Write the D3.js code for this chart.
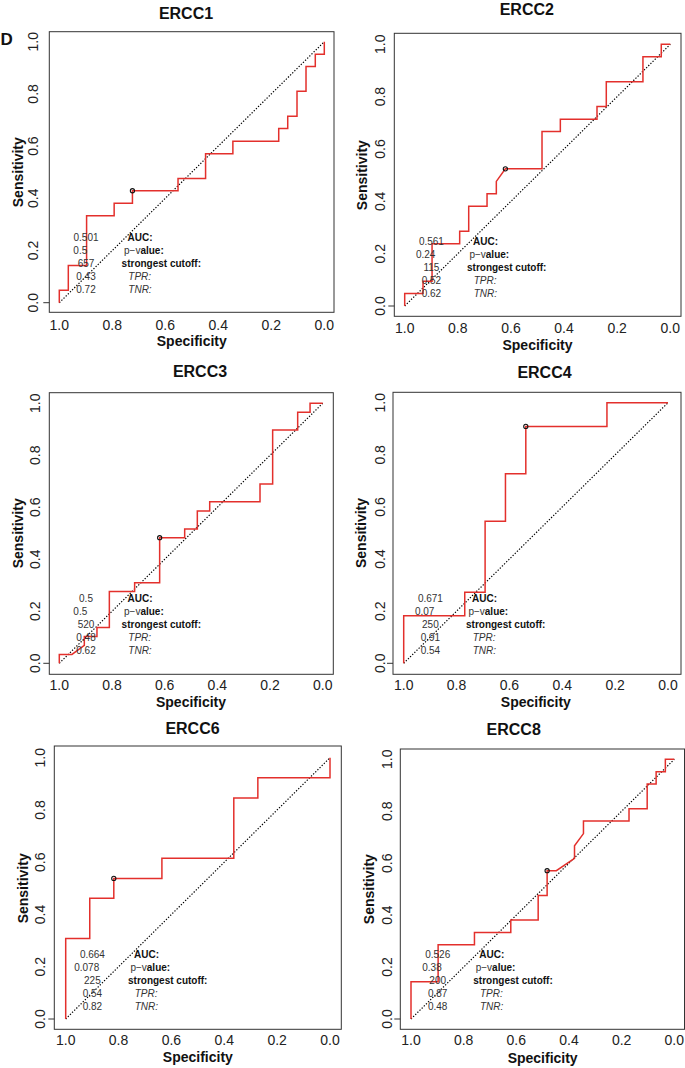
<!DOCTYPE html>
<html><head><meta charset="utf-8">
<script src="https://cdn.jsdelivr.net/npm/d3@7"></script>
<style>
html,body{margin:0;padding:0;background:#fff;}
svg{display:block;font-family:"Liberation Sans",Arial,Helvetica,sans-serif;}
</style></head>
<body>
<svg id="chart" width="685" height="1068"></svg>
<script>
// ---------- data ----------
const geneNames = ["ERCC1","ERCC2","ERCC3","ERCC4","ERCC6","ERCC8"];
const axisTicks = [0, 0.2, 0.4, 0.6, 0.8, 1.0];
const statLabels = ["AUC:", "p\u2212value:", "strongest cutoff:", "TPR:", "TNR:"];

const ercc1Spec = [1,1,0.966,0.966,0.897,0.897,0.793,0.793,0.724,0.724,0.552,0.552,0.448,0.448,0.345,0.345,0.172,0.172,0.138,0.138,0.103,0.103,0.069,0.069,0.034,0.034,0,0];
const ercc1Sens = [0,0.048,0.048,0.143,0.143,0.333,0.333,0.381,0.381,0.429,0.429,0.476,0.476,0.571,0.571,0.619,0.619,0.667,0.667,0.714,0.714,0.810,0.810,0.905,0.905,0.952,0.952,1];
const ercc1Best = [0.724, 0.429];
const ercc1Stats = ["0.501","0.5","657","0.43","0.72"];

const ercc2Spec = [1,1,0.931,0.931,0.897,0.897,0.793,0.793,0.759,0.759,0.690,0.690,0.655,0.655,0.621,0.483,0.483,0.414,0.414,0.276,0.276,0.241,0.241,0.103,0.103,0.034,0.034,0];
const ercc2Sens = [0,0.048,0.048,0.095,0.095,0.238,0.238,0.286,0.286,0.381,0.381,0.429,0.429,0.476,0.524,0.524,0.667,0.667,0.714,0.714,0.762,0.762,0.857,0.857,0.952,0.952,1,1];
const ercc2Best = [0.621, 0.524];
const ercc2Stats = ["0.561","0.24","115","0.52","0.62"];

const ercc3Spec = [1,1,0.952,0.905,0.905,0.857,0.857,0.810,0.810,0.714,0.714,0.619,0.619,0.524,0.524,0.476,0.476,0.429,0.429,0.238,0.238,0.190,0.190,0.095,0.095,0.048,0.048,0];
const ercc3Sens = [0,0.034,0.034,0.069,0.103,0.103,0.138,0.138,0.276,0.276,0.310,0.310,0.483,0.483,0.517,0.517,0.586,0.586,0.621,0.621,0.690,0.690,0.897,0.897,0.966,0.966,1,1];
const ercc3Best = [0.619, 0.483];
const ercc3Stats = ["0.5","0.5","520","0.48","0.62"];

const ercc4Spec = [1,1,0.769,0.769,0.692,0.692,0.615,0.615,0.538,0.538,0.231,0.231,0];
const ercc4Sens = [0,0.182,0.182,0.273,0.273,0.545,0.545,0.727,0.727,0.909,0.909,1,1];
const ercc4Best = [0.538, 0.909];
const ercc4Stats = ["0.671","0.07","250","0.91","0.54"];

const ercc6Spec = [1,1,0.909,0.909,0.818,0.818,0.636,0.636,0.364,0.364,0.273,0.273,0,0];
const ercc6Sens = [0,0.308,0.308,0.462,0.462,0.538,0.538,0.615,0.615,0.846,0.846,0.923,0.923,1];
const ercc6Best = [0.818, 0.538];
const ercc6Stats = ["0.664","0.078","225","0.54","0.82"];

const ercc8Spec = [1,1,0.897,0.897,0.759,0.759,0.621,0.621,0.517,0.517,0.483,0.483,0.448,0.379,0.379,0.345,0.345,0.172,0.172,0.103,0.103,0.069,0.069,0.034,0.034,0];
const ercc8Sens = [0,0.143,0.143,0.286,0.286,0.333,0.333,0.381,0.381,0.476,0.476,0.571,0.571,0.619,0.667,0.714,0.762,0.762,0.810,0.810,0.905,0.905,0.952,0.952,1,1];
const ercc8Best = [0.483, 0.571];
const ercc8Stats = ["0.526","0.38","200","0.87","0.48"];

const specSeries = [ercc1Spec, ercc2Spec, ercc3Spec, ercc4Spec, ercc6Spec, ercc8Spec];
const sensSeries = [ercc1Sens, ercc2Sens, ercc3Sens, ercc4Sens, ercc6Sens, ercc8Sens];
const bestPoints = [ercc1Best, ercc2Best, ercc3Best, ercc4Best, ercc6Best, ercc8Best];
const statValues = [ercc1Stats, ercc2Stats, ercc3Stats, ercc4Stats, ercc6Stats, ercc8Stats];

// ---------- layout (pixels) ----------
const layout = [
  {x1:59.3, x0:324.3, y1:41.7, y0:302.7, bl:49.3, br:334, bt:31.7, bb:312.3, tx:186, ty:19.3, yt:33.3, yl:18.3, xt:325, xl:340.5},
  {x1:404.7, x0:670.3, y1:44.3, y0:306, bl:394.3, br:681, bt:33.3, bb:316.3, tx:526.8, ty:15, yt:380, yl:362, xt:328.3, xl:345},
  {x1:59.3, x0:322.7, y1:403.3, y0:663.3, bl:49.3, br:333.3, bt:392.7, bb:674.3, tx:200, ty:377.3, yt:35, yl:18.3, xt:685, xl:701.7},
  {x1:403.7, x0:668, y1:402.7, y0:663.3, bl:393, br:681, bt:392.3, bb:674.3, tx:544.5, ty:378.3, yt:380.3, yl:361.3, xt:685, xl:701.7},
  {x1:65.7, x0:330, y1:757.7, y0:1019, bl:54.3, br:341.3, bt:746, bb:1029.3, tx:192.5, ty:734.3, yt:40, yl:23.3, xt:1040, xl:1057.3},
  {x1:411, x0:674.3, y1:759.3, y0:1019, bl:400.3, br:684.5, bt:749, bb:1029.3, tx:513.7, ty:735, yt:387, yl:369.3, xt:1040, xl:1058}
];

const svg = d3.select("#chart");
const RED = "#e3302c";

// Panel letter
svg.append("text").attr("x", 0.5).attr("y", 45).attr("font-size", 17).attr("font-weight", "bold").attr("fill", "#111").text("D");

geneNames.forEach((name, i) => {
  const L = layout[i];
  const x = d3.scaleLinear().domain([1, 0]).range([L.x1, L.x0]);
  const y = d3.scaleLinear().domain([0, 1]).range([L.y0, L.y1]);
  const g = svg.append("g");

  // title
  g.append("text").attr("x", L.tx).attr("y", L.ty).attr("text-anchor", "middle")
    .attr("font-size", 16).attr("font-weight", "bold").attr("fill", "#111").text(name);

  // box
  g.append("rect").attr("x", L.bl).attr("y", L.bt).attr("width", L.br - L.bl).attr("height", L.bb - L.bt)
    .attr("fill", "none").attr("stroke", "#333").attr("stroke-width", 1);

  // x ticks labels
  g.selectAll(".xt").data(axisTicks).enter().append("text")
    .attr("x", d => x(d)).attr("y", L.xt).attr("dy", "0.36em").attr("text-anchor", "middle")
    .attr("font-size", 14).attr("fill", "#222").text(d => d3.format(".1f")(d));
  // y tick labels rotated
  g.selectAll(".yt").data(axisTicks).enter().append("text")
    .attr("transform", d => `translate(${L.yt},${y(d)}) rotate(-90)`).attr("dy", "0.36em").attr("text-anchor", "middle")
    .attr("font-size", 14).attr("fill", "#222").text(d => d3.format(".1f")(d));
  // small tick at 0
  g.append("line").attr("x1", L.bl - 6).attr("x2", L.bl).attr("y1", y(0)).attr("y2", y(0)).attr("stroke", "#333").attr("stroke-width", 1);

  // axis labels
  g.append("text").attr("x", (L.x1 + L.x0) / 2).attr("y", L.xl).attr("dy", "0.36em").attr("text-anchor", "middle")
    .attr("font-size", 14).attr("font-weight", "bold").attr("fill", "#111").text("Specificity");
  g.append("text").attr("transform", `translate(${L.yl},${(L.y0 + L.y1) / 2}) rotate(-90)`).attr("dy", "0.36em")
    .attr("text-anchor", "middle").attr("font-size", 14).attr("font-weight", "bold").attr("fill", "#111").text("Sensitivity");

  // diagonal
  g.append("line").attr("x1", x(1)).attr("y1", y(0)).attr("x2", x(0)).attr("y2", y(1))
    .attr("stroke", "#000").attr("stroke-width", 1.2).attr("stroke-dasharray", "1.3,1.7");

  // ROC curve
  const pts = specSeries[i].map((s, k) => [s, sensSeries[i][k]]);
  const line = d3.line().x(d => x(d[0])).y(d => y(d[1]));
  g.append("path").attr("d", line(pts)).attr("fill", "none").attr("stroke", RED).attr("stroke-width", 1.5);

  // best threshold
  g.append("circle").attr("cx", x(bestPoints[i][0])).attr("cy", y(bestPoints[i][1])).attr("r", 2.1)
    .attr("fill", "none").attr("stroke", "#111").attr("stroke-width", 1.1);

  // stats text
  const valOff = [26.7, 21, 26.7, 26.7, 26.7];
  const labOff = [68.3, 64.7, 62.3, 69, 69];
  statValues[i].forEach((v, k) => {
    const yy = y(0) - 65 + 13 * k;
    g.append("text").attr("x", L.x1 + valOff[k]).attr("y", yy).attr("dy", "0.36em").attr("text-anchor", "middle")
      .attr("font-size", 10).attr("fill", "#333").text(v);
    const t = g.append("text").attr("x", L.x1 + labOff[k]).attr("y", yy).attr("dy", "0.36em")
      .attr("font-size", 10).attr("fill", "#111");
    if (k === 0 || k === 2) {
      t.attr("font-weight", "bold").text(statLabels[k]);
    } else if (k === 1) {
      t.append("tspan").attr("fill", "#333").text("p\u2212v");
      t.append("tspan").attr("font-weight", "bold").text("alue:");
    } else {
      t.attr("font-style", "italic").attr("fill", "#333").text(statLabels[k]);
    }
  });
});
</script>
</body></html>
